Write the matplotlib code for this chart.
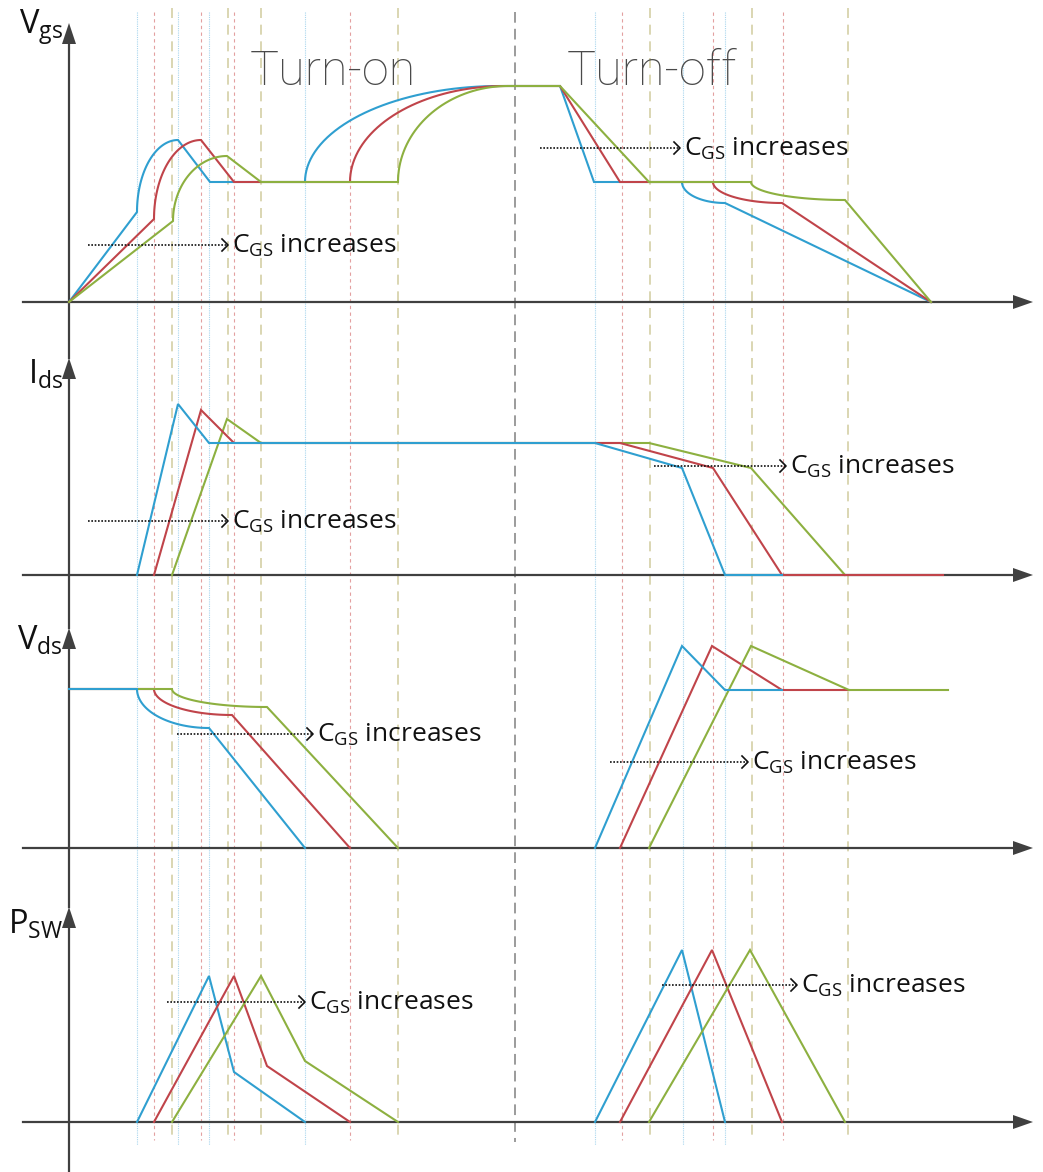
import numpy as np
import matplotlib
matplotlib.use("Agg")
import matplotlib.pyplot as plt

plt.rcParams['font.family'] = ['Open Sans', 'DejaVu Sans']
plt.rcParams['mathtext.fontset'] = 'custom'
plt.rcParams['mathtext.rm'] = 'Open Sans'

nan = np.nan

# panels: label, baseline, top of the y arrow
PANEL_LABELS = [r'$\mathregular{V_{gs}}$', r'$\mathregular{I_{ds}}$',
                r'$\mathregular{V_{ds}}$', r'$\mathregular{P_{SW}}$']
PANEL_BASE = [302, 575, 848, 1122]
PANEL_TOP = [23, 358, 628, 907]
LABEL_BASELINE = [34, 384, 650, 934]

# waveform breakpoints (time, height above the panel baseline), kinds: l = line, e = rounded
VGS_BLUE_T = [69, 137, 178, 210, 305, 500, 560, 594, 682, 725, 931]
VGS_BLUE_V = [0, 90, 162, 120, 120, 216, 216, 120, 120, 99, 0]
VGS_RED_T = [69, 154, 201, 234, 350, 505, 560, 620, 713, 782, 931]
VGS_RED_V = [0, 83, 162, 120, 120, 216, 216, 120, 120, 99, 0]
VGS_GREEN_T = [69, 173, 227, 261, 398, 508, 560, 649, 751, 845, 931]
VGS_GREEN_V = [0, 81, 146, 120, 120, 216, 216, 120, 120, 102, 0]
VGS_KINDS = "lellelllel"

IDS_BLUE_T = [137, 178, 209, 595, 682, 725, 782]
IDS_BLUE_V = [0, 171, 132, 132, 107, 0, 0]
IDS_RED_T = [154, 201, 234, 620, 713, 782, 943]
IDS_RED_V = [0, 165, 132, 132, 107, 0, 0]
IDS_GREEN_T = [172, 227, 261, 649, 751, 845]
IDS_GREEN_V = [0, 156, 132, 132, 107, 0]

VDS_BLUE_T = [69, 137, 209, 305, nan, 595, 682, 725, 782]
VDS_BLUE_V = [159, 159, 120, 0, nan, 0, 202, 158, 158]
VDS_RED_T = [69, 154, 232, 350, nan, 620, 712, 782, 849]
VDS_RED_V = [159, 159, 133, 0, nan, 0, 202, 158, 158]
VDS_GREEN_T = [69, 172, 267, 398, nan, 649, 751, 849, 948]
VDS_GREEN_V = [159, 159, 141, 0, nan, 0, 202, 158, 158]
VDS_KINDS = "lellllll"

PSW_BLUE_T = [137, 209, 234, 305, nan, 595, 682, 725]
PSW_BLUE_V = [0, 146, 50, 0, nan, 0, 172, 0]
PSW_RED_T = [154, 234, 267, 350, nan, 620, 712, 782]
PSW_RED_V = [0, 146, 56, 0, nan, 0, 172, 0]
PSW_GREEN_T = [172, 261, 305, 398, nan, 649, 750, 845]
PSW_GREEN_V = [0, 146, 61, 0, nan, 0, 172, 0]

# guide lines (time instants)
GUIDE_BLUE = [137, 178, 209, 305, 595, 683, 725]
GUIDE_RED = [154, 201, 234, 350, 622, 713, 783]
GUIDE_GREEN = [172, 228, 261, 398, 650, 752, 848]
T_SWITCH = 515

# "C_GS increases" annotations
NOTE_X0 = [88, 540, 88, 654, 177, 610, 167, 662]
NOTE_X1 = [228, 680, 228, 786, 313, 748, 305, 797]
NOTE_Y = [245, 148, 521, 466, 734, 762, 1002, 985]

BLUE = '#2f9fd0'
RED = '#c0444a'
GREEN = '#8db040'
AXIS = '#404040'


def trace(t, v, kinds, base):
    xs, ys = [t[0]], [v[0]]
    for i in range(len(t) - 1):
        x0, y0, x1, y1 = t[i], v[i], t[i + 1], v[i + 1]
        if kinds and kinds[i] == 'e':
            s = np.linspace(0, np.pi / 2, 40)[1:]
            xs += list(x1 - (x1 - x0) * np.cos(s))
            ys += list(y0 + (y1 - y0) * np.sin(s))
        else:
            xs.append(x1)
            ys.append(y1)
    return np.array(xs), base - np.array(ys)


fig = plt.figure(figsize=(10.43, 11.72), dpi=100)
ax = fig.add_axes([0, 0, 1, 1])
ax.set_xlim(0, 1043)
ax.set_ylim(1172, 0)
ax.axis('off')

# guides
for x in GUIDE_BLUE:
    ax.plot([x, x], [12, 1145], color='#a9d6ee', lw=0.8, ls=(0, (1, 1)), zorder=1)
for x in GUIDE_RED:
    ax.plot([x, x], [12, 1140], color='#e3a0a0', lw=0.8, ls=(0, (3, 3)), zorder=1)
for x in GUIDE_GREEN:
    ax.plot([x, x], [8, 1138], color='#d4cfa6', lw=1.2, ls=(0, (6, 4)), zorder=1)
ax.plot([T_SWITCH, T_SWITCH], [12, 1142], color='#808080', lw=1.1, ls=(0, (7, 4)), zorder=1)

# axes with arrows
for i, (base, top) in enumerate(zip(PANEL_BASE, PANEL_TOP)):
    bottom = PANEL_TOP[i + 1] if i + 1 < len(PANEL_TOP) else 1172
    ax.plot([69, 69], [bottom, top + 18], color=AXIS, lw=1.6, zorder=3)
    ax.fill([62, 76, 69], [top + 21, top + 21, top], color=AXIS, lw=0, zorder=3)
    ax.plot([23, 1015], [base, base], color=AXIS, lw=1.6, zorder=3)
    ax.fill([1013, 1013, 1033], [base - 7, base + 7, base], color=AXIS, lw=0, zorder=3)
    ax.text(63, LABEL_BASELINE[i], PANEL_LABELS[i], fontsize=23.5, ha='right',
            va='baseline', color='#111111')

# waveforms
def draw(t, v, kinds, base, color):
    x, y = trace(t, v, kinds, base)
    ax.plot(x, y, color=color, lw=1.5, zorder=4, solid_joinstyle='miter')

draw(VGS_BLUE_T, VGS_BLUE_V, VGS_KINDS, PANEL_BASE[0], BLUE)
draw(VGS_RED_T, VGS_RED_V, VGS_KINDS, PANEL_BASE[0], RED)
draw(VGS_GREEN_T, VGS_GREEN_V, VGS_KINDS, PANEL_BASE[0], GREEN)

draw(IDS_GREEN_T, IDS_GREEN_V, None, PANEL_BASE[1], GREEN)
draw(IDS_RED_T, IDS_RED_V, None, PANEL_BASE[1], RED)
draw(IDS_BLUE_T, IDS_BLUE_V, None, PANEL_BASE[1], BLUE)

draw(VDS_RED_T, VDS_RED_V, VDS_KINDS, PANEL_BASE[2], RED)
draw(VDS_GREEN_T, VDS_GREEN_V, VDS_KINDS, PANEL_BASE[2], GREEN)
draw(VDS_BLUE_T, VDS_BLUE_V, VDS_KINDS, PANEL_BASE[2], BLUE)

draw(PSW_BLUE_T, PSW_BLUE_V, None, PANEL_BASE[3], BLUE)
draw(PSW_RED_T, PSW_RED_V, None, PANEL_BASE[3], RED)
draw(PSW_GREEN_T, PSW_GREEN_V, None, PANEL_BASE[3], GREEN)

# phase titles
ax.text(250, 85, 'Turn-on', fontsize=35, family='Roboto', fontweight='light',
        color='#4a4a4a', va='baseline')
ax.text(567, 85, 'Turn-off', fontsize=35, family='Roboto', fontweight='light',
        color='#4a4a4a', va='baseline')

# dotted arrows with notes
for x0, x1, y in zip(NOTE_X0, NOTE_X1, NOTE_Y):
    ax.plot([x0, x1 - 1], [y, y], color='#111111', lw=1.2, ls=(0, (1, 1)), zorder=5)
    ax.plot([x1 - 6, x1, x1 - 6], [y - 6, y, y + 6], color='#111111', lw=1.2, zorder=5)
    ax.text(x1 + 4, y + 8, r'$\mathregular{C_{GS}}$ increases', fontsize=19,
            va='baseline', ha='left', color='#111111', zorder=5)

fig.savefig('out.png', dpi=100)
